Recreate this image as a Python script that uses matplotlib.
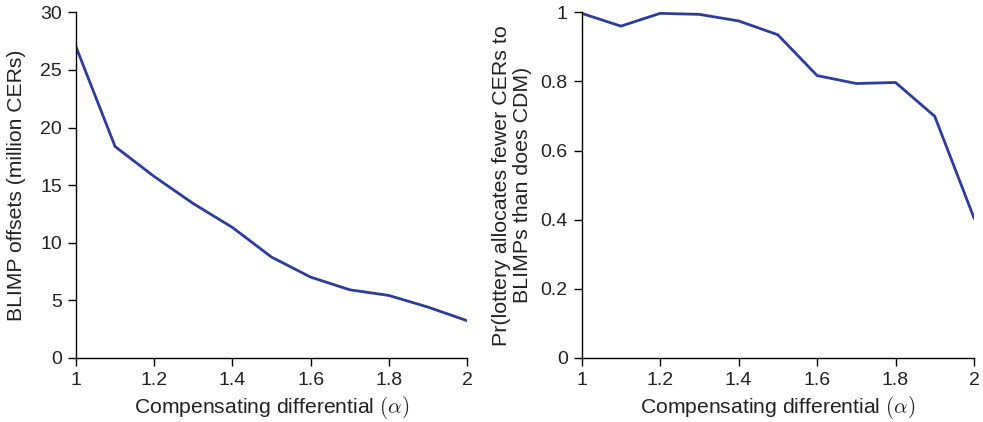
import matplotlib
matplotlib.use("Agg")
import matplotlib.pyplot as plt
from matplotlib.ticker import FuncFormatter

plt.rcParams['font.family'] = ['Liberation Sans', 'DejaVu Sans']
plt.rcParams['mathtext.fontset'] = 'cm'

alpha = [1.0, 1.1, 1.2, 1.3, 1.4, 1.5, 1.6, 1.7, 1.8, 1.9, 2.0]
blimp_offsets = [27.0, 18.35, 15.75, 13.4, 11.33, 8.76, 7.02, 5.92, 5.43, 4.42, 3.24]
prob_fewer = [0.997, 0.960, 0.997, 0.994, 0.975, 0.935, 0.817, 0.794, 0.797, 0.699, 0.405]

left_yticks = [0, 5, 10, 15, 20, 25, 30]
right_yticks = [0, 0.2, 0.4, 0.6, 0.8, 1.0]
xticks = [1, 1.2, 1.4, 1.6, 1.8, 2]

line_color = '#2a3d9c'
fmt = FuncFormatter(lambda v, p: '%g' % v)

fig = plt.figure(figsize=(9.83, 4.22), dpi=100)
ax1 = fig.add_axes([76/983, 1-358/422, (467-76)/983, (358-12.3)/422])
ax2 = fig.add_axes([581.7/983, 1-358/422, (974-581.7)/983, (358-12.3)/422])

for ax in (ax1, ax2):
    for s in ('top', 'right'):
        ax.spines[s].set_visible(False)
    for s in ('left', 'bottom'):
        ax.spines[s].set_linewidth(1.0)
    ax.tick_params(direction='out', length=6, width=1.0, labelsize=14, pad=4,
                   labelcolor='#222222')
    ax.set_xlim(1, 2)
    ax.set_xticks(xticks)
    ax.xaxis.set_major_formatter(fmt)
    ax.yaxis.set_major_formatter(fmt)
    ax.set_xlabel(r'Compensating differential $(\alpha)$', fontsize=15.2, labelpad=4,
                  color='#222222')

ax1.plot(alpha, blimp_offsets, color=line_color, lw=2.0)
ax1.set_ylim(0, 30)
ax1.set_yticks(left_yticks)
ax1.set_ylabel('BLIMP offsets (million CERs)', fontsize=15.2, labelpad=10, color='#222222')

ax2.plot(alpha, prob_fewer, color=line_color, lw=2.0)
ax2.set_ylim(0, 1)
ax2.set_yticks(right_yticks)
ax2.set_ylabel('Pr(lottery allocates fewer CERs to\nBLIMPs than does CDM)', fontsize=15.4,
               labelpad=6, linespacing=1.15, color='#222222')

fig.savefig('out.png', dpi=100)
